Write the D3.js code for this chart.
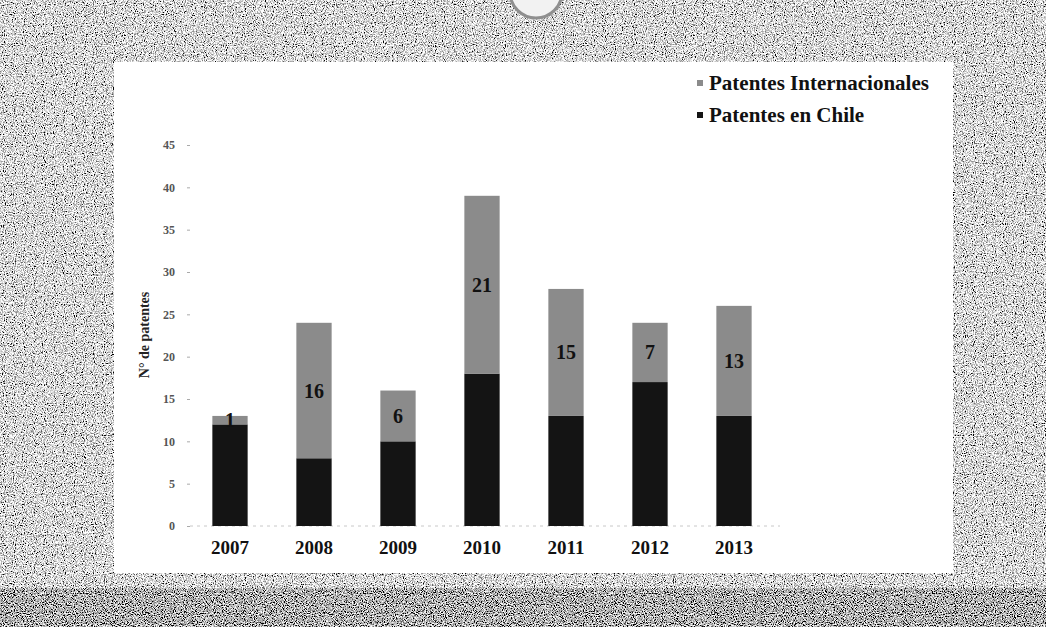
<!DOCTYPE html>
<html>
<head>
<meta charset="utf-8">
<script src="https://cdn.jsdelivr.net/npm/d3@7"></script>
<style>
  body { margin: 0; background: #c4c4c4; }
  svg { display: block; }
</style>
</head>
<body>
<div id="chart"></div>
<script>
    // data
    let years = ["2007", "2008", "2009", "2010", "2011", "2012", "2013"];
    let chile = [12, 8, 10, 18, 13, 17, 13];
    let internacionales = [1, 16, 6, 21, 15, 7, 13];
    let yTicks = [0, 5, 10, 15, 20, 25, 30, 35, 40, 45];
    let seriesNames = ["Patentes Internacionales", "Patentes en Chile"];

    let width = 1046;
    let height = 627;

    let colorInt = "#8b8b8b";
    let colorChile = "#141414";

    var svg = d3.select("#chart")
        .append("svg")
        .attr("width", width)
        .attr("height", height);

    // grainy scan look for the background
    var defs = svg.append("defs");
    function grain(id, a, b, seed) {
        var f = defs.append("filter")
            .attr("id", id)
            .attr("x", 0).attr("y", 0)
            .attr("width", "100%").attr("height", "100%");
        f.append("feTurbulence")
            .attr("type", "fractalNoise")
            .attr("baseFrequency", 0.9)
            .attr("numOctaves", 2)
            .attr("seed", seed);
        f.append("feColorMatrix")
            .attr("type", "matrix")
            .attr("values", a + " 0 0 0 " + b + " " + a + " 0 0 0 " + b + " " + a + " 0 0 0 " + b + " 0 0 0 0 1");
    }
    grain("grainLight", 3.0, -0.8, 3);
    grain("grainDark", 3.0, -1.05, 7);

    svg.append("rect")
        .attr("x", 0).attr("y", 0)
        .attr("width", width).attr("height", 590)
        .attr("fill", "#c4c4c4")
        .attr("filter", "url(#grainLight)");

    svg.append("rect")
        .attr("x", 0).attr("y", 588)
        .attr("width", width).attr("height", height - 588)
        .attr("fill", "#707070")
        .attr("filter", "url(#grainDark)");

    // the ring at the top of the photo
    svg.append("circle")
        .attr("cx", 536).attr("cy", -8)
        .attr("r", 26)
        .attr("fill", "#f2f2f2")
        .attr("stroke", "#8f8f8f")
        .attr("stroke-width", 3);

    // white slide area
    svg.append("rect")
        .attr("x", 114).attr("y", 62)
        .attr("width", 839).attr("height", 511)
        .attr("fill", "#ffffff");

    // scales
    var x = d3.scaleBand()
        .domain(years)
        .range([188, 776])
        .paddingInner(0.58)
        .paddingOuter(0.29);

    var y = d3.scaleLinear()
        .domain([0, 45])
        .range([526, 145]);

    // y axis (no domain line, tiny ticks)
    var yAxis = svg.append("g")
        .attr("transform", "translate(190,0)")
        .call(d3.axisLeft(y).tickValues(yTicks).tickSize(3).tickPadding(12));
    yAxis.select(".domain").remove();
    yAxis.selectAll(".tick line").attr("stroke", "#aaa");
    yAxis.selectAll(".tick text")
        .style("font-family", "'Liberation Serif', serif")
        .style("font-weight", "bold")
        .style("font-size", "12px")
        .attr("fill", "#555");

    svg.append("text")
        .attr("transform", "translate(149,335) rotate(-90)")
        .attr("text-anchor", "middle")
        .style("font-family", "'Liberation Serif', serif")
        .style("font-weight", "bold")
        .style("font-size", "14px")
        .attr("fill", "#222")
        .text("N° de patentes");

    // faint baseline
    svg.append("line")
        .attr("x1", 190).attr("x2", 780)
        .attr("y1", y(0)).attr("y2", y(0))
        .attr("stroke", "#c8c8c8")
        .attr("stroke-dasharray", "3,4")
        .attr("stroke-width", 1);

    // stacked bars
    var bars = svg.append("g");
    bars.selectAll(".chile")
        .data(years)
        .join("rect")
        .attr("class", "chile")
        .attr("x", d => x(d))
        .attr("width", x.bandwidth())
        .attr("y", (d, i) => y(chile[i]))
        .attr("height", (d, i) => y(0) - y(chile[i]))
        .attr("fill", colorChile);

    bars.selectAll(".intl")
        .data(years)
        .join("rect")
        .attr("class", "intl")
        .attr("x", d => x(d))
        .attr("width", x.bandwidth())
        .attr("y", (d, i) => y(chile[i] + internacionales[i]))
        .attr("height", (d, i) => y(chile[i]) - y(chile[i] + internacionales[i]))
        .attr("fill", colorInt);

    // labels on the international part
    bars.selectAll(".lbl")
        .data(years)
        .join("text")
        .attr("class", "lbl")
        .attr("x", d => x(d) + x.bandwidth() / 2)
        .attr("y", (d, i) => y(chile[i] + internacionales[i] / 2))
        .attr("dy", "0.35em")
        .attr("text-anchor", "middle")
        .style("font-family", "'Liberation Serif', serif")
        .style("font-weight", "bold")
        .style("font-size", "20px")
        .attr("fill", "#111")
        .text((d, i) => internacionales[i]);

    // year labels
    svg.selectAll(".year")
        .data(years)
        .join("text")
        .attr("class", "year")
        .attr("x", d => x(d) + x.bandwidth() / 2)
        .attr("y", 554)
        .attr("text-anchor", "middle")
        .style("font-family", "'Liberation Serif', serif")
        .style("font-weight", "bold")
        .style("font-size", "19px")
        .attr("fill", "#111")
        .text(d => d);

    // legend
    var legend = svg.append("g")
        .attr("transform", "translate(697,83)");
    legend.selectAll("rect")
        .data(seriesNames)
        .join("rect")
        .attr("x", 0)
        .attr("y", (d, i) => i * 32 - 3)
        .attr("width", 6).attr("height", 6)
        .attr("fill", (d, i) => i == 0 ? colorInt : colorChile);
    legend.selectAll("text")
        .data(seriesNames)
        .join("text")
        .attr("x", 12)
        .attr("y", (d, i) => i * 32)
        .attr("dy", "0.35em")
        .style("font-family", "'Liberation Serif', serif")
        .style("font-weight", "bold")
        .style("font-size", "21px")
        .attr("fill", "#111")
        .text(d => d);
</script>
</body>
</html>
